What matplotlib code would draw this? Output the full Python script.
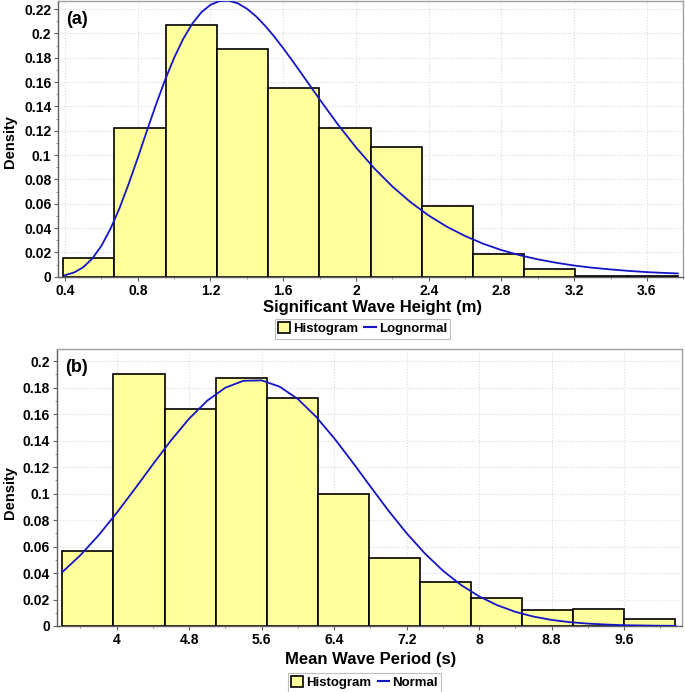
import numpy as np
import matplotlib
matplotlib.use("Agg")
import matplotlib.pyplot as plt
from matplotlib.ticker import MultipleLocator, FuncFormatter
from matplotlib.patches import Patch
from matplotlib.lines import Line2D

# DATA
# (a) significant wave height histogram (relative frequency per bin)
hs_edges = [0.39 + 0.2817 * i for i in range(13)]
hs_freq = [0.0157, 0.122, 0.207, 0.187, 0.155, 0.122, 0.107, 0.058, 0.019, 0.006, 0.001, 0.001]

# fitted lognormal curve
hs_curve_x = [0.4, 0.45, 0.5, 0.55, 0.6, 0.65, 0.7, 0.75, 0.8, 0.85, 0.9, 0.95, 1.0, 1.05,
              1.1, 1.15, 1.2, 1.25, 1.3, 1.35, 1.4, 1.45, 1.5, 1.55, 1.6, 1.65, 1.7, 1.75,
              1.8, 1.9, 2.0, 2.1, 2.2, 2.3, 2.4, 2.5, 2.6, 2.7, 2.8, 2.9, 3.0, 3.1, 3.2,
              3.3, 3.4, 3.5, 3.6, 3.7, 3.77]
hs_curve_y = [0.0013, 0.0035, 0.0078, 0.0149, 0.0254, 0.0394, 0.0565, 0.0763, 0.0977, 0.1198,
              0.1414, 0.1617, 0.1799, 0.1955, 0.2080, 0.2174, 0.2235, 0.2266, 0.2269, 0.2247,
              0.2203, 0.2141, 0.2063, 0.1975, 0.1878, 0.1776, 0.1671, 0.1564, 0.1458, 0.1253,
              0.1063, 0.0892, 0.0742, 0.0613, 0.0503, 0.0411, 0.0335, 0.0271, 0.0219, 0.0177,
              0.0143, 0.0115, 0.0092, 0.0074, 0.0060, 0.0048, 0.0038, 0.0031, 0.0027]

# (b) mean wave period histogram
tm_edges = [3.40 + 0.564 * i for i in range(13)]
tm_freq = [0.057, 0.190, 0.164, 0.187, 0.172, 0.100, 0.051, 0.0335, 0.021, 0.012, 0.013, 0.005]

# fitted normal curve
tm_curve_x = [3.4, 3.6, 3.8, 4.0, 4.2, 4.4, 4.6, 4.8, 5.0, 5.2, 5.4, 5.6, 5.8, 6.0, 6.2, 6.4,
              6.6, 6.8, 7.0, 7.2, 7.4, 7.6, 7.8, 8.0, 8.2, 8.4, 8.6, 8.8, 9.0, 9.2, 9.4, 9.6,
              9.8, 10.0, 10.17]
tm_curve_y = [0.0407, 0.0535, 0.0685, 0.0854, 0.1035, 0.1221, 0.1402, 0.1566, 0.1702, 0.1800,
              0.1852, 0.1855, 0.1807, 0.1714, 0.1581, 0.1419, 0.1240, 0.1054, 0.0871, 0.0701,
              0.0549, 0.0418, 0.0310, 0.0224, 0.0157, 0.0107, 0.0071, 0.0046, 0.0029, 0.0018,
              0.0011, 0.0006, 0.0004, 0.0002, 0.0001]

BAR_COLOR = "#FFFF9E"
LINE_COLOR = "#1515C8"
FONT = "Liberation Sans"

plt.rcParams["font.family"] = [FONT, "DejaVu Sans"]
plt.rcParams["font.weight"] = "bold"

fig = plt.figure(figsize=(6.85, 6.92), dpi=100)
fig.patch.set_facecolor("white")


def fmt(v, pos):
    return "%g" % round(v, 4)


def draw_panel(ax, edges, freq, cx, cy, xlim, ylim, xmajor, ymajor, tag, xlabel,
               curve_name, xlabel_y, leg_x, leg_y, ylab_pos):
    widths = np.diff(edges)
    ax.bar(edges[:-1], freq, width=widths, align="edge", color=BAR_COLOR,
           edgecolor="black", linewidth=1.2, zorder=2)
    ax.plot(cx, cy, color=LINE_COLOR, linewidth=1.3, zorder=3)

    ax.set_xlim(*xlim)
    ax.set_ylim(*ylim)
    ax.xaxis.set_major_locator(MultipleLocator(xmajor))
    ax.xaxis.set_minor_locator(MultipleLocator(xmajor / 2))
    ax.yaxis.set_major_locator(MultipleLocator(ymajor))
    ax.yaxis.set_minor_locator(MultipleLocator(ymajor / 2))
    ax.xaxis.set_major_formatter(FuncFormatter(fmt))
    ax.yaxis.set_major_formatter(FuncFormatter(fmt))

    ax.grid(True, which="major", color="#d8d8d8", linestyle=":", linewidth=0.8, zorder=0)
    ax.set_axisbelow(True)

    for side in ["top", "right"]:
        ax.spines[side].set_color("#a0a0a0")
        ax.spines[side].set_linewidth(1.0)
    for side in ["left", "bottom"]:
        ax.spines[side].set_color("#606060")
        ax.spines[side].set_linewidth(1.0)

    ax.tick_params(axis="both", which="major", direction="out", length=3, width=0.8,
                   color="#606060", labelsize=10, pad=2)
    ax.tick_params(axis="both", which="minor", direction="out", length=1.5, width=0.6,
                   color="#808080")
    for lab in ax.get_xticklabels() + ax.get_yticklabels():
        lab.set_fontweight("bold")

    ax.text(0.013, 0.965, tag, transform=ax.transAxes, fontsize=13, fontweight="bold",
            ha="left", va="top", zorder=5)

    ax.set_xlabel(xlabel, fontsize=12, fontweight="bold")
    ax.xaxis.set_label_coords(0.502, xlabel_y)
    ax.set_ylabel("Density", fontsize=10.5, fontweight="bold")
    ax.yaxis.set_label_coords(*ylab_pos)

    handles = [Patch(facecolor=BAR_COLOR, edgecolor="black", linewidth=1.2),
               Line2D([0], [0], color=LINE_COLOR, linewidth=1.5)]
    leg = ax.legend(handles, ["Histogram", curve_name], loc="upper center",
                    bbox_to_anchor=(leg_x, leg_y), ncol=2, frameon=True, fancybox=False,
                    edgecolor="#b0b0b0", fontsize=9.5, handlelength=0.9, handleheight=0.9,
                    handletextpad=0.2, columnspacing=0.5, borderpad=0.25,
                    borderaxespad=0)
    leg.get_frame().set_linewidth(0.8)
    for t in leg.get_texts():
        t.set_fontweight("bold")


ax1 = fig.add_axes([0.0851, 0.6001, 0.9124, 0.3984])
draw_panel(ax1, hs_edges, hs_freq, hs_curve_x, hs_curve_y,
           xlim=(0.363, 3.80), ylim=(0, 0.2266), xmajor=0.4, ymajor=0.02,
           tag="(a)", xlabel="Significant Wave Height (m)", curve_name="Lognormal",
           xlabel_y=-0.085, leg_x=0.487, leg_y=-0.153, ylab_pos=(-0.066, 0.489))

ax2 = fig.add_axes([0.0828, 0.0954, 0.9124, 0.3999])
draw_panel(ax2, tm_edges, tm_freq, tm_curve_x, tm_curve_y,
           xlim=(3.338, 10.237), ylim=(0, 0.209), xmajor=0.8, ymajor=0.02,
           tag="(b)", xlabel="Mean Wave Period (s)", curve_name="Normal",
           xlabel_y=-0.093, leg_x=0.4925, leg_y=-0.170, ylab_pos=(-0.064, 0.481))

fig.savefig("out.png", dpi=100, facecolor="white")
